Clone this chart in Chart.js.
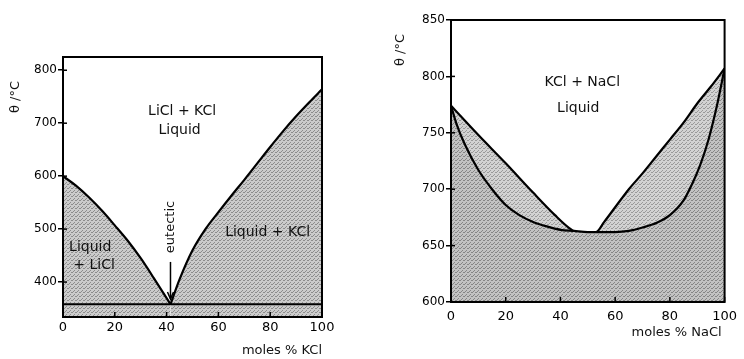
<!DOCTYPE html>
<html>
<head>
<meta charset="utf-8">
<script src="https://cdn.jsdelivr.net/npm/chart.js@4.4.0/dist/chart.umd.min.js"></script>
<style>
  html, body { margin: 0; padding: 0; background: #fff; }
  body { width: 744px; height: 359px; position: relative; overflow: hidden; }
  canvas { position: absolute; top: 0; }
</style>
</head>
<body>
<canvas id="left" width="372" height="359" style="left:0"></canvas>
<canvas id="right" width="372" height="359" style="left:372px"></canvas>
<script>
// ---------- Data: LiCl + KCl ----------
const licl_leftX = [0, 5, 10, 15, 20, 25, 30, 35, 41.5];
const licl_leftT = [600, 582, 560, 535, 507, 478, 445, 408, 358];
const licl_rightX = [41.5, 45, 50, 55, 60, 65, 70, 75, 80, 85, 90, 95, 100];
const licl_rightT = [358, 405, 460, 500, 532, 563, 593, 624, 655, 685, 713, 739, 764];
const licl_eutecticX = [0, 100];
const licl_eutecticT = [358, 358];
const licl_xTicks = [0, 20, 40, 60, 80, 100];
const licl_yTicks = [400, 500, 600, 700, 800];

// ---------- Data: KCl + NaCl ----------
const kcl_upperX = [0, 10, 20, 30, 38, 43, 46, 53, 56, 60, 65, 70, 75, 80, 85, 90, 95, 100];
const kcl_upperT = [774, 748, 723, 697, 677, 666, 662, 662, 671, 684, 700, 714, 729, 744, 759, 776, 791, 807];
const kcl_lowerX = [0, 2, 5, 10, 15, 20, 25, 30, 35, 40, 45, 50, 55, 60, 65, 70, 75, 80, 85, 88, 91, 94, 97, 100];
const kcl_lowerT = [774, 758, 740, 717, 700, 686, 677, 671, 667, 664, 663, 662, 662, 662, 663, 666, 670, 677, 690, 704, 721, 743, 772, 807];
const kcl_xTicks = [0, 20, 40, 60, 80, 100];
const kcl_yTicks = [600, 650, 700, 750, 800, 850];

// ---------- Text labels ----------
const licl_labels = [
  { text: "LiCl + KCl", x: 46, y: 722 },
  { text: "Liquid", x: 45, y: 687 },
  { text: "Liquid", x: 10.5, y: 466 },
  { text: "+ LiCl", x: 12, y: 432 },
  { text: "Liquid + KCl", x: 79, y: 493 },
];
const kcl_labels = [
  { text: "KCl + NaCl", x: 48, y: 795 },
  { text: "Liquid", x: 46.5, y: 772 },
];

function pts(xs, ys) { return xs.map((x, i) => ({ x: x, y: ys[i] })); }

function makePattern(base, dot) {
  const c = document.createElement('canvas');
  c.width = 4; c.height = 4;
  const g = c.getContext('2d');
  g.fillStyle = base; g.fillRect(0, 0, 4, 4);
  g.fillStyle = dot;
  g.fillRect(0, 0, 1, 1); g.fillRect(2, 2, 1, 1); g.fillRect(3, 0, 1, 1); g.fillRect(1, 3, 1, 1);
  return g.createPattern(c, 'repeat');
}

const FONT = "'DejaVu Sans', 'Liberation Sans', sans-serif";

function axesConfig(xmin, xmax, ymin, ymax, xTicks, yTicks, xPad) {
  return {
    x: {
      type: 'linear', min: xmin, max: xmax,
      afterBuildTicks: s => { s.ticks = xTicks.map(v => ({ value: v })); },
      afterFit: s => { s.height = 30; },
      grid: { drawOnChartArea: false, drawTicks: true, tickLength: 0, color: '#000' },
      border: { display: false },
      ticks: { color: '#000', font: { family: FONT, size: 13 }, padding: xPad, maxRotation: 0 }
    },
    y: {
      type: 'linear', min: ymin, max: ymax,
      afterBuildTicks: s => { s.ticks = yTicks.map(v => ({ value: v })); },
      afterFit: s => { s.width = 40; },
      grid: { drawOnChartArea: false, drawTicks: true, tickLength: 5, color: '#000', lineWidth: 1.5 },
      border: { display: false },
      ticks: { color: '#000', font: { family: FONT, size: 12 }, padding: 1 }
    }
  };
}

function decorPlugin(opts) {
  return {
    id: 'decor',
    afterDatasetsDraw(chart) {
      const ctx = chart.ctx, a = chart.chartArea;
      const xs = chart.scales.x, ys = chart.scales.y;
      ctx.save();
      ctx.strokeStyle = '#000'; ctx.lineWidth = 1.5;
      xs.ticks.forEach(t => {
        const px = xs.getPixelForValue(t.value);
        ctx.beginPath(); ctx.moveTo(px, a.bottom); ctx.lineTo(px, a.bottom - 5); ctx.stroke();
      });
      ys.ticks.forEach(t => {
        const py = ys.getPixelForValue(t.value);
        ctx.beginPath(); ctx.moveTo(a.left, py); ctx.lineTo(a.left + 4, py); ctx.stroke();
      });
      ctx.strokeStyle = '#000'; ctx.lineWidth = 2;
      ctx.strokeRect(a.left, a.top, a.right - a.left, a.bottom - a.top);
      ctx.fillStyle = '#111';
      ctx.font = '14px ' + FONT;
      ctx.textAlign = 'center'; ctx.textBaseline = 'middle';
      opts.labels.forEach(l => {
        ctx.fillText(l.text, xs.getPixelForValue(l.x), ys.getPixelForValue(l.y));
      });
      ctx.save();
      ctx.translate(opts.yTitle.x, opts.yTitle.y);
      ctx.rotate(-Math.PI / 2);
      ctx.font = '13px ' + FONT;
      ctx.fillText('θ /°C', 0, 0);
      ctx.restore();
      ctx.textAlign = 'right';
      ctx.font = '13px ' + FONT;
      ctx.fillText(opts.xTitle.text, a.right + opts.xTitle.dx, opts.xTitle.y);
      if (opts.extra) opts.extra(chart, ctx);
      ctx.restore();
    }
  };
}

const leftFill = makePattern('#cbcbcb', '#8c8c8c');

// ---------- Left chart ----------
new Chart(document.getElementById('left'), {
  type: 'line',
  data: {
    datasets: [
      {
        data: pts(licl_eutecticX, licl_eutecticT),
        borderColor: '#000', borderWidth: 2, pointRadius: 0, fill: false
      },
      {
        data: pts(licl_leftX, licl_leftT),
        borderColor: '#000', borderWidth: 2.2, pointRadius: 0,
        cubicInterpolationMode: 'monotone',
        fill: 'start', backgroundColor: leftFill
      },
      {
        data: pts(licl_rightX, licl_rightT),
        borderColor: '#000', borderWidth: 2.2, pointRadius: 0,
        cubicInterpolationMode: 'monotone',
        fill: 'start', backgroundColor: leftFill
      }
    ]
  },
  options: {
    responsive: false, animation: false, devicePixelRatio: 1,
    layout: { padding: { left: 23, right: 50, top: 57, bottom: 12 } },
    plugins: { legend: { display: false }, tooltip: { enabled: false } },
    scales: axesConfig(0, 100, 334, 825, licl_xTicks, licl_yTicks, 3)
  },
  plugins: [decorPlugin({
    labels: licl_labels,
    yTitle: { x: 16, y: 97 },
    xTitle: { text: 'moles % KCl', dx: 0, y: 351 },
    extra: (chart, ctx) => {
      const xs = chart.scales.x, ys = chart.scales.y;
      const x = xs.getPixelForValue(41.5);
      ctx.save();
      ctx.translate(x, 227);
      ctx.rotate(-Math.PI / 2);
      ctx.textAlign = 'center'; ctx.textBaseline = 'middle';
      ctx.font = '13px ' + FONT;
      ctx.fillText('eutectic', 0, 0);
      ctx.restore();
      const y0 = ys.getPixelForValue(438), y1 = ys.getPixelForValue(368);
      ctx.strokeStyle = '#000'; ctx.lineWidth = 1.5;
      ctx.beginPath(); ctx.moveTo(x, y0); ctx.lineTo(x, y1); ctx.stroke();
      ctx.beginPath(); ctx.moveTo(x - 3, y1 - 7); ctx.lineTo(x, y1); ctx.lineTo(x + 3, y1 - 7); ctx.stroke();
    }
  })]
});

// ---------- Right chart ----------
new Chart(document.getElementById('right'), {
  type: 'line',
  data: {
    datasets: [
      {
        data: pts(kcl_lowerX, kcl_lowerT),
        borderColor: '#000', borderWidth: 2.2, pointRadius: 0,
        cubicInterpolationMode: 'monotone',
        fill: 'start', backgroundColor: makePattern('#c2c2c2', '#858585')
      },
      {
        data: pts(kcl_upperX, kcl_upperT),
        borderColor: '#000', borderWidth: 2.2, pointRadius: 0,
        cubicInterpolationMode: 'monotone',
        fill: 'start', backgroundColor: makePattern('#d2d2d2', '#999999')
      }
    ]
  },
  options: {
    responsive: false, animation: false, devicePixelRatio: 1,
    layout: { padding: { left: 39, right: 11, top: 20, bottom: 27 } },
    plugins: { legend: { display: false }, tooltip: { enabled: false } },
    scales: axesConfig(0, 100, 600, 850, kcl_xTicks, kcl_yTicks, 7)
  },
  plugins: [decorPlugin({
    labels: kcl_labels,
    yTitle: { x: 29, y: 50 },
    xTitle: { text: 'moles % NaCl', dx: -3, y: 333 }
  })]
});
</script>
</body>
</html>
